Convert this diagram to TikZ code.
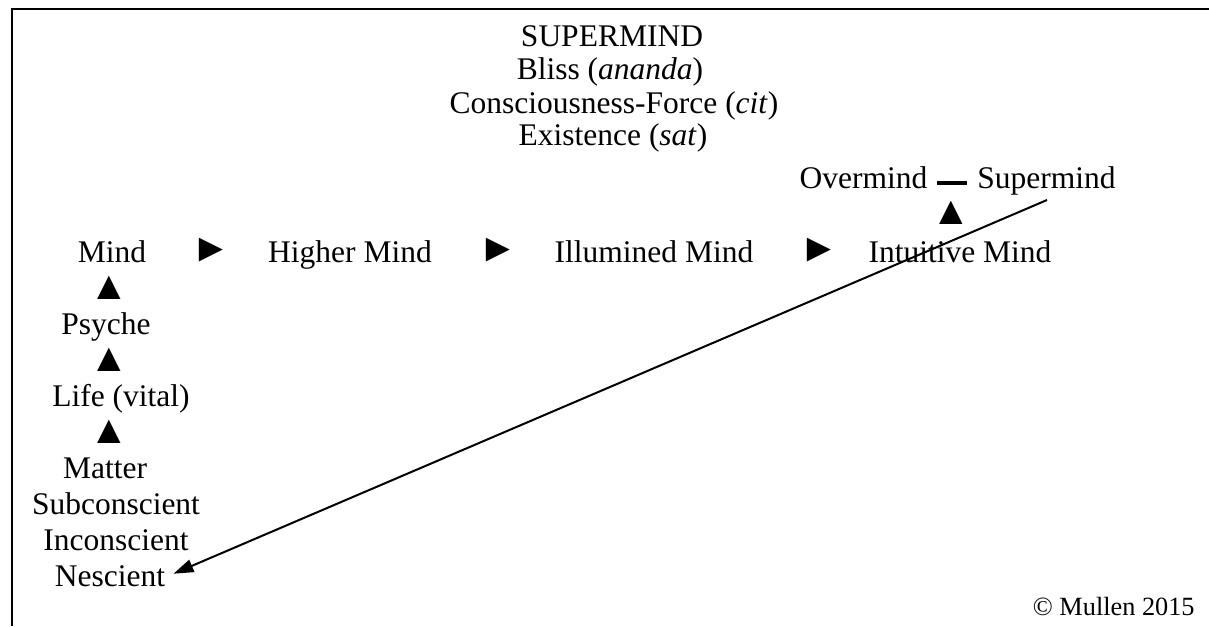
\documentclass[tikz,border=0pt]{standalone}
\usepackage{fontspec}
\setmainfont{Liberation Serif}
\usetikzlibrary{arrows.meta, positioning}

\begin{document}
\begin{tikzpicture}[x=0.5pt, y=-0.5pt,
    lvl/.style={inner sep=0pt, anchor=base, font=\fontsize{15.75}{18}\selectfont},
    tri/.style={inner sep=0pt, font=\fontsize{20}{24}\selectfont},
    note/.style={inner sep=0pt, anchor=base east, font=\fontsize{13.15}{15}\selectfont},
    link/.style={line width=1pt, -{Triangle[length=10pt, width=6.5pt]}},
    bar/.style={line width=2.2pt, line cap=butt},
  ]
    \useasboundingbox (0,0) rectangle (1209,626);
    % frame on the left and top
    \draw[line width=1pt] (11.5,626) -- (11.5,9.5) -- (1209,9.5);

    % the supramental triple
    \node[lvl] (sup)   at (612, 47)  {SUPERMIND};
    \node[lvl] (bliss) at (610, 80)  {Bliss (\textit{ananda})};
    \node[lvl] (cit)   at (614, 113) {Consciousness-Force (\textit{cit})};
    \node[lvl] (sat)   at (613, 146) {Existence (\textit{sat})};

    % upper row
    \node[lvl] (over)  at (863.5, 188) {Overmind};
    \node[lvl] (super) at (1046.5, 188) {Supermind};
    \draw[bar] ([xshift=4.5pt, yshift=2.5pt]over.base east)
      -- ([xshift=-5pt, yshift=2.5pt]super.base west);
    \node[tri] (up0) at (951, 213) {▲};

    % the ascent of mind
    \node[lvl] (mind)   at (112, 262) {Mind};
    \node[lvl] (higher) at (350, 262) {Higher Mind};
    \node[lvl] (illum)  at (654, 262) {Illumined Mind};
    \node[lvl] (intui)  at (960, 262) {Intuitive Mind};
    \node[tri] (fwd1) at (211, 250) {►};
    \node[tri] (fwd2) at (498, 250) {►};
    \node[tri] (fwd3) at (819, 250) {►};

    % left column
    \node[tri] (up1) at (109, 288) {▲};
    \node[lvl] (psyche) at (106, 334) {Psyche};
    \node[tri] (up2) at (109, 360) {▲};
    \node[lvl] (life)   at (121, 406) {Life (vital)};
    \node[tri] (up3) at (109, 432) {▲};
    \node[lvl] (matter) at (105, 478) {Matter};
    \node[lvl] (subc)   at (116, 514) {Subconscient};
    \node[lvl] (inc)    at (116, 550) {Inconscient};
    \node[lvl] (nesc)   at (110, 586) {Nescient};

    % descent back to the Nescient
    \coordinate (start) at (1047, 200);
    \draw[link] (start) -- ([xshift=4pt, yshift=1pt]nesc.east);

    \node[note] (copy) at (1195, 615) {© Mullen 2015};
\end{tikzpicture}
\end{document}
